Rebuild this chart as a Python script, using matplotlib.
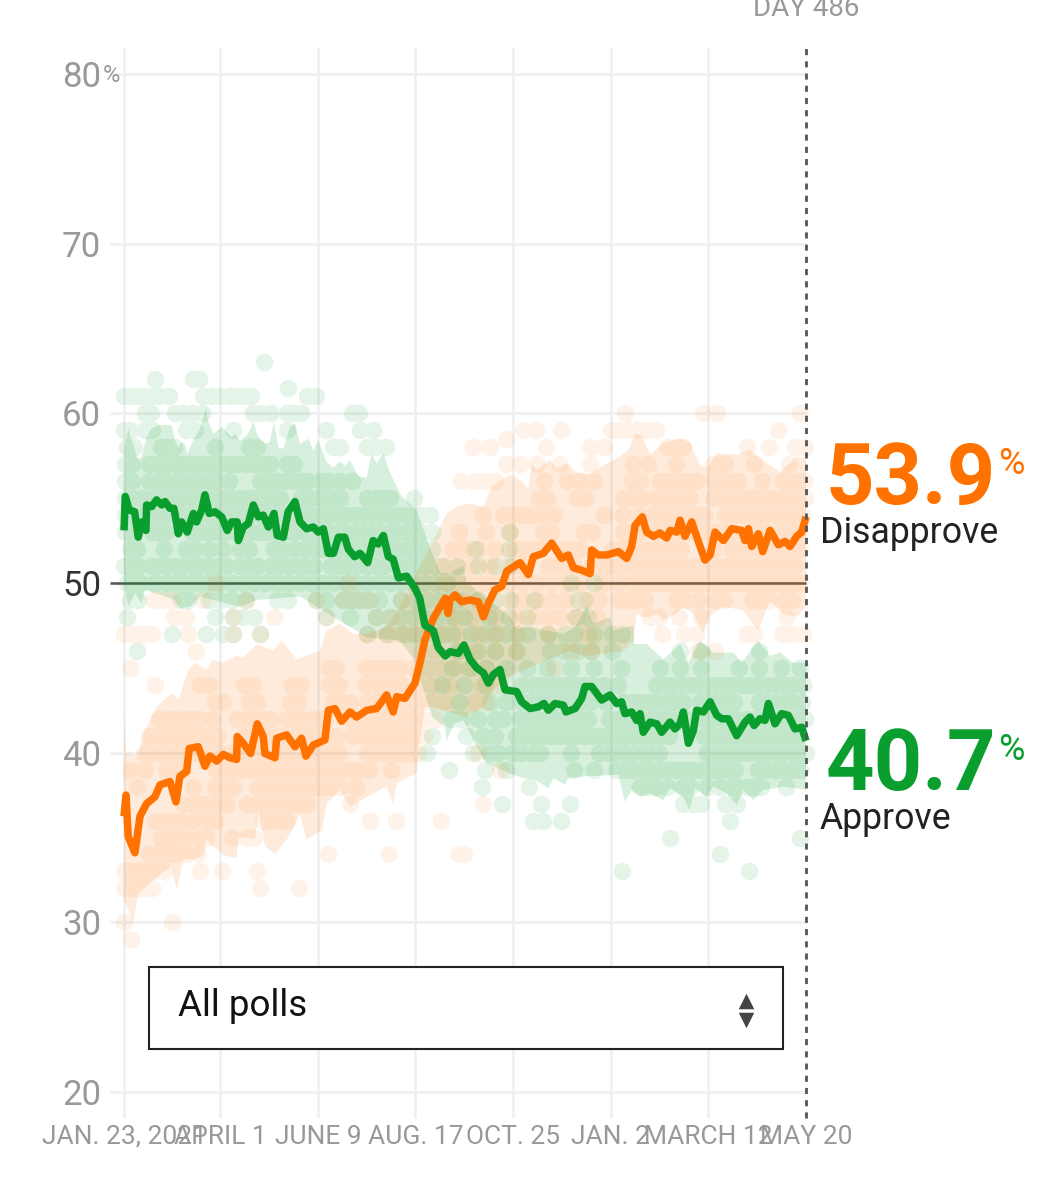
import matplotlib
matplotlib.use('Agg')
import matplotlib.pyplot as plt
from matplotlib.patches import Rectangle

GREEN = '#0a9e2e'
ORANGE = '#ff7200'
BODY = ['Roboto', 'DejaVu Sans']

# x values are days since Jan. 23, 2021
tick_days = [0, 68, 137, 206, 275, 344, 413, 482]
tick_labels = ['JAN. 23, 2021', 'APRIL 1', 'JUNE 9', 'AUG. 17', 'OCT. 25', 'JAN. 2', 'MARCH 12', 'MAY 20']
y_ticks = [20, 30, 40, 50, 60, 70, 80]

approve_days = [0, 0.9, 3.7, 7.5, 10.1, 12.5, 15.5, 16, 19.5, 23, 26.6, 29, 32.5, 35.3, 38.4, 40.7, 44.7, 49, 51.3,
                54.9, 57.2, 60.3, 64.3, 69, 73, 76, 80, 80.8, 84.3, 87.8, 91.4, 94.9, 98.4, 102, 106, 108.3, 112.6,
                116, 120.8, 124.4, 129, 133.8, 137.3, 140.9, 144.4, 148, 151.5, 156, 158.5, 163, 166.8, 172.2, 176,
                179.7, 183.3, 186.8, 190.3, 193.9, 199.8, 205.6, 209, 212.7, 218.6, 222, 227, 230.4, 236.3, 240.3,
                244.5, 249.2, 254, 257.5, 261, 265.7, 269.3, 277.5, 281, 287, 292.8, 296.8, 299.9, 304.6, 310.5,
                312.4, 318.8, 323.5, 325.8, 330.5, 337.6, 343.5, 348.2, 351.7, 354, 358.8, 362.3, 364.7, 367, 371.8,
                376.5, 380, 385.9, 389.4, 393, 395.3, 398.9, 402.4, 404.7, 409.5, 414.2, 418.9, 422.4, 427.1, 433,
                438.9, 442.4, 445.3, 449.5, 453, 455.4, 460.1, 464.8, 469.5, 474.2, 479, 482]
approve_avg = [53.1, 55.1, 54.3, 54.2, 52.7, 53.6, 53.1, 54.6, 54.5, 54.9, 54.6, 54.8, 54.4, 54.4, 52.9, 53.6, 53.0,
               54.1, 53.6, 54.3, 55.2, 54.1, 54.2, 53.9, 53.1, 53.6, 53.6, 52.5, 53.3, 53.5, 54.6, 53.9, 54.0, 53.3,
               54.1, 52.8, 52.7, 54.2, 54.8, 53.6, 53.2, 53.3, 53.0, 53.2, 51.75, 51.75, 52.7, 52.7, 52.0, 51.55,
               51.75, 51.2, 52.5, 52.3, 52.8, 51.55, 51.4, 50.3, 50.4, 49.7, 49.1, 47.5, 47.2, 46.2, 45.7, 45.95,
               45.85, 46.35, 45.5, 45.0, 44.7, 44.1, 44.6, 44.9, 43.7, 43.6, 43.0, 42.6, 42.7, 42.9, 42.5, 42.9,
               42.8, 42.4, 42.6, 43.2, 43.9, 43.9, 43.1, 43.4, 42.9, 43.0, 42.3, 42.4, 41.9, 42.3, 41.2, 41.8, 41.7,
               41.2, 41.8, 41.4, 41.7, 42.4, 40.55, 41.3, 42.5, 42.4, 43.0, 42.2, 42.0, 42.0, 41.0, 41.8, 42.1, 41.6,
               42.0, 41.9, 42.9, 41.7, 42.3, 42.2, 41.4, 41.5, 40.7]

disapprove_days = [0, 1.4, 3, 7.7, 11.3, 16, 21.9, 25.4, 32.5, 36.7, 39.5, 44.3, 46.1, 52.5, 57.2, 60.7, 65.5, 70.2,
                   74.9, 79.6, 80, 84.3, 89.5, 94.2, 98.4, 99.6, 106.7, 107.9, 114.9, 120.8, 125.5, 128.6, 133.8, 142,
                   144.4, 149.1, 153.8, 159.7, 164.4, 171.5, 178.5, 185.6, 190.3, 192.7, 198.6, 205.6, 209.2, 212.7,
                   218.6, 222, 227, 229, 230.4, 233.9, 238.6, 244.5, 250.4, 254, 257.5, 262.2, 266.9, 270.5, 279.9,
                   285.8, 289.3, 296.4, 302.3, 309.3, 314, 317.6, 323.5, 329.4, 330.5, 335.2, 341.1, 349.4, 355.3,
                   358.8, 361.2, 366.3, 369.4, 374.1, 378.8, 383.5, 385.9, 390.6, 393, 396.5, 401.2, 405.9, 410.6,
                   414.2, 417.7, 423.6, 429.5, 436.5, 438.9, 441.3, 443.6, 448.3, 451.4, 456.6, 462.5, 467.2, 470.7,
                   475.4, 479, 482]
disapprove_avg = [36.25, 37.5, 35.05, 34.1, 36.25, 37.0, 37.4, 38.1, 38.3, 37.1, 38.6, 38.9, 40.25, 40.35, 39.2, 39.8,
                  39.5, 39.9, 39.7, 39.6, 40.95, 40.55, 39.95, 41.7, 40.95, 39.95, 39.7, 40.85, 41.05, 40.35, 40.85,
                  39.8, 40.45, 40.75, 42.5, 42.6, 41.85, 42.4, 42.1, 42.5, 42.6, 43.4, 42.4, 43.3, 43.2, 44.1, 45.3,
                  46.65, 47.9, 48.4, 49.1, 48.2, 49.0, 49.3, 48.9, 49.0, 48.9, 48.0, 48.8, 49.6, 49.8, 50.7, 51.2,
                  50.5, 51.55, 51.75, 52.35, 51.45, 51.65, 50.9, 50.75, 50.55, 51.95, 51.65, 51.65, 51.85, 51.45,
                  52.15, 53.4, 53.9, 53.0, 52.75, 52.95, 52.65, 53.1, 53.0, 53.7, 52.75, 53.6, 52.45, 51.35, 51.65,
                  53.0, 52.5, 53.2, 53.1, 52.5, 53.2, 52.15, 52.9, 51.85, 53.1, 52.25, 52.45, 52.15, 52.75, 53.0, 53.9]

# upper and lower edges of the shaded bands
approve_top_days = [0, 0.5, 3, 5.4, 10.1, 12.5, 16, 19.5, 24.2, 33.7, 36, 38.4, 40.7, 43, 44.7, 50.1, 53.7, 57.9, 59.6,
                    63.1, 69, 76, 78.4, 82, 87.8, 91.4, 94.9, 99.6, 103, 106, 109, 112.6, 117.3, 120.8, 124.4, 130.3,
                    133.8, 137.3, 143.2, 147.9, 152.6, 156.2, 159.7, 165.6, 171.5, 175, 178.5, 183.3, 188, 192.7, 196.2,
                    206.8, 216.2, 223.3, 230, 239.8, 242, 254, 261, 273, 277.5, 287, 298.7, 310.5, 318.8, 327, 331.7,
                    343.5, 345.8, 360, 360.7, 369.4, 381.2, 393, 398.9, 407, 416.5, 430.7, 436.5, 448.3, 456.6, 463.6,
                    473, 481, 482]
approve_top = [54, 58, 59.1, 58.4, 57.25, 57.45, 58.6, 59.1, 59.3, 59.3, 58.4, 58, 58.3, 58.2, 57.6, 58.6, 59.1, 60.3,
               59.5, 58.8, 59.2, 58.6, 58.8, 58.4, 58.8, 59.5, 58.6, 58.2, 58.3, 59.5, 58, 57.9, 59.2, 59.4, 58.2, 58.5,
               57.8, 58.4, 57.15, 56.8, 57.15, 56.9, 57.25, 56.3, 56.2, 57.65, 57.05, 57.65, 56.5, 55.7, 55.1, 54.3,
               52.1, 50.6, 50.6, 51, 50.1, 49.2, 48.8, 48, 47.3, 47.4, 47.2, 47, 47.4, 48.6, 47.6, 48, 47.2, 47.5, 46.4,
               46.4, 45.5, 46.4, 45.3, 46.6, 45.9, 45.9, 45.3, 46.6, 45.7, 45.9, 45.3, 45.3, 45.2]
approve_bottom_days = [0, 3, 7.7, 12.5, 14.8, 36, 39.5, 46.6, 53.7, 82, 93.7, 124.4, 148, 164, 171.5, 195, 205, 214, 218,
                       227, 228, 233, 240, 247, 256, 275, 282.2, 290.5, 299.9, 303.4, 311.7, 314, 324.6, 349.4, 354.1,
                       358.8, 365.9, 371.8, 381.2, 385.9, 395.3, 399.6, 403.6, 411.8, 416.5, 426, 433, 437.7, 444.8,
                       451.9, 466, 475.4, 482]
approve_bottom = [50, 48.6, 49.4, 48.8, 49.6, 49, 48.5, 48.6, 49.2, 48.6, 49, 49.2, 48, 47.2, 46.8, 46.6, 45.5, 43.1, 42.1,
                  41.5, 40.7, 41.7, 41.9, 40.7, 39.4, 38.7, 38.5, 38.4, 37.9, 38.5, 38.1, 38.5, 38.6, 38.7, 37.1, 37.8,
                  37.4, 37.6, 37.2, 37.9, 37.4, 36.6, 37.9, 37.4, 38, 37.6, 36.9, 37.8, 37.2, 37.8, 38, 37.9, 37.8]
disapprove_top_days = [0, 1.4, 10, 13.6, 23, 33.6, 38.4, 45.4, 50, 58.4, 63, 69, 79.6, 84.3, 93.7, 105.5, 111.4, 122,
                       138.5, 143, 152.6, 162, 171.5, 185.6, 195, 206.8, 218.6, 228, 235, 244.5, 254, 259.9, 272.8, 281,
                       285.8, 288.1, 291.7, 301.1, 305.8, 312.9, 318.8, 329.4, 334.1, 343.5, 350.6, 356.4, 361.2, 365.9,
                       371.8, 381.2, 393, 400, 407.1, 411.8, 418.9, 433, 442.4, 453, 463.6, 475.4, 482]
disapprove_top = [42.3, 40, 39.8, 41.1, 42.7, 43.5, 43.1, 44.9, 45.3, 44.9, 45.5, 45.3, 45.7, 45.6, 46.4, 46, 46.6, 45.5,
                  46, 47.2, 47.6, 47, 47, 47.4, 48.6, 50.6, 52.5, 54.1, 54.5, 54.7, 54.5, 55.7, 56.4, 56, 55.5, 57.05,
                  56.65, 57.25, 56.75, 57.05, 56.55, 56.4, 56.7, 57.15, 57.45, 57.85, 58.8, 58.7, 57.55, 58.25, 58.5,
                  58.3, 56.95, 56.75, 57.65, 57.55, 57.85, 57.15, 56.55, 57.45, 57.35]
disapprove_bottom_days = [0, 6.6, 10, 20.7, 33.6, 37.2, 42, 49, 56, 58.4, 63, 70.2, 72.5, 79.6, 80.8, 84.3, 92.6, 95, 99.6,
                          106.7, 116, 124.4, 129, 139.7, 143.2, 152.6, 159.7, 171.5, 185.6, 190.3, 192.7, 206.8, 209,
                          212.7, 218, 242, 254, 261, 277.5, 301, 315, 325, 353, 360, 362.3, 365.9, 371.8, 376.5, 381.2,
                          390.6, 395.3, 402.4, 409.5, 413, 423.6, 437.7, 442.4, 448.3, 453, 456.6, 466, 475.4, 482]
disapprove_bottom = [31.3, 30, 31.7, 32.5, 33.3, 31.9, 33.7, 33.7, 33.9, 34.9, 34.5, 34, 33.9, 33.8, 35, 35, 34.9, 36.6,
                     34.5, 34, 35, 36.4, 34.9, 35.4, 37, 37.8, 36.8, 37.4, 38, 37, 38.2, 38.8, 40.7, 42.7, 42.7, 42.1,
                     42.7, 43.7, 44.7, 45.5, 46, 45.7, 46, 46.6, 48.2, 48, 48, 48.2, 47.8, 48.2, 48.6, 48.2, 47, 48, 48.6,
                     48.4, 47.8, 47.2, 48.2, 48.9, 48.2, 48, 48.6]

# individual polls, one row of days per percentage level
approve_levels = [63, 62, 61.5, 61, 60, 59, 58, 57, 56, 55, 54, 53, 52, 51, 50, 49, 48, 47, 46, 45, 44, 43, 42, 41, 40,
                  39, 38, 37, 36, 35, 34, 33]
approve_poll_days = [
    [99], [22, 49, 53], [116],
    [0, 5, 10, 15, 20, 25, 32, 56, 62, 68, 74, 80, 85, 90, 129, 136],
    [15, 19, 36, 42, 48, 55, 91, 97, 104, 115, 120, 125, 161, 166],
    [0, 4, 15, 20, 44, 50, 77, 115, 143, 167, 176],
    [2, 7, 26, 30, 35, 64, 88, 94, 148, 153, 172, 178, 185],
    [1, 6, 18, 24, 30, 36, 40, 44, 50, 56, 62, 68, 74, 80, 86, 92, 98, 103, 115, 120],
    [1, 6, 18, 24, 30, 36, 42, 48, 54, 60, 65, 74, 96, 102, 108, 114, 120, 126, 129, 139, 145, 153, 161],
    [1, 6, 12, 14, 22, 28, 34, 40, 46, 51, 58, 64, 70, 76, 82, 88, 94, 100, 106, 110, 125, 131, 137, 143, 148, 153, 172,
     178, 184, 188, 205],
    [1, 6, 12, 18, 24, 30, 36, 42, 48, 54, 60, 66, 72, 78, 84, 90, 96, 102, 108, 114, 120, 126, 132, 139, 145, 151, 157,
     163, 169, 175, 181, 187, 193, 199, 205, 210, 216],
    [1, 6, 20, 24, 30, 48, 54, 60, 66, 72, 78, 84, 90, 96, 102, 108, 114, 120, 127, 133, 139, 145, 151, 157, 163, 169,
     175, 181, 187, 193, 199, 205, 210, 218, 272],
    [4, 9, 28, 44, 50, 60, 70, 82, 88, 106, 112, 120, 128, 134, 140, 146, 152, 158, 164, 170, 176, 182, 188, 194, 200,
     206, 212, 218, 248, 272],
    [0, 5, 10, 20, 24, 30, 36, 42, 48, 54, 60, 66, 72, 82, 88, 94, 104, 110, 116, 122, 128, 134, 146, 152, 158, 164,
     172, 178, 184, 196, 202, 208, 214, 220, 225, 235, 250, 262, 272],
    [2, 7, 12, 22, 30, 36, 42, 48, 54, 60, 68, 76, 84, 92, 100, 108, 116, 124, 132, 140, 148, 156, 164, 172, 180, 188,
     196, 204, 212, 220, 228, 316, 332],
    [4, 10, 40, 45, 60, 68, 76, 86, 108, 116, 136, 143, 155, 160, 166, 172, 180, 196, 206, 214, 222, 230, 235, 250, 262,
     273, 290, 321, 325],
    [2, 64, 77, 84, 92, 143, 160, 178, 188, 196, 204, 212, 222, 232, 240, 258, 272, 285, 319, 328],
    [34, 58, 70, 77, 96, 172, 186, 196, 204, 212, 224, 232, 245, 255, 262, 270, 278, 285, 300, 312, 318, 332, 345, 352],
    [9, 235, 250, 262, 278, 301, 311, 320, 330, 345, 393, 408, 449],
    [232, 244, 256, 270, 285, 299, 316, 332, 351, 379, 393, 408, 435, 449, 464, 478],
    [225, 240, 255, 281, 289, 295, 301, 307, 313, 319, 325, 331, 339, 349, 376, 382, 388, 394, 400, 406, 412, 418, 424,
     430, 436, 442, 448, 454, 461, 467, 473, 480],
    [237, 259, 270, 281, 287, 293, 299, 305, 311, 317, 323, 329, 341, 353, 359, 365, 371, 377, 383, 389, 395, 407, 413,
     419, 425, 431, 449, 455, 461, 467, 473, 479],
    [232, 238, 250, 262, 268, 280, 286, 292, 298, 304, 310, 316, 322, 328, 343, 349, 355, 361, 367, 373, 379, 385, 391,
     397, 403, 410, 416, 422, 428, 434, 440, 446, 452, 458, 464, 470, 476, 481],
    [218, 242, 254, 262, 277, 283, 289, 295, 301, 307, 313, 319, 325, 331, 337, 343, 349, 355, 361, 367, 373, 379, 385,
     410, 416, 422, 428, 434, 440, 446, 452, 458, 464, 470, 476],
    [214, 247, 258, 264, 275, 281, 288, 294, 316, 336, 342, 348, 354, 360, 366, 372, 378, 412, 418, 424, 430, 436, 442,
     448, 454, 460, 466, 472, 478, 482],
    [230, 255, 270, 318, 332, 348, 354, 360, 366, 372, 378, 384, 390, 396, 402, 408, 414, 420, 426, 432, 448, 454, 460,
     466, 472, 478],
    [253, 286, 365, 370, 376, 384, 395, 400, 412, 421, 430, 435, 440, 445, 450, 468],
    [267, 295, 315, 395, 402, 408, 425, 433],
    [289, 296, 309, 428],
    [386, 478],
    [421],
    [352, 442],
]

disapprove_levels = [60, 59, 58.5, 58, 57, 56, 55, 54, 53, 52, 51, 50, 49, 48, 47, 46, 45, 44, 43, 42, 41, 40, 39, 38,
                     37, 36, 35, 34, 33, 32, 30, 29]
disapprove_poll_days = [
    [354, 409, 419, 478],
    [282, 291, 309, 344, 350, 356, 362, 368, 376, 462],
    [270],
    [247, 259, 298, 329, 339, 384, 390, 395, 440, 456, 474, 481],
    [270, 280, 292, 308, 329, 360, 370, 390, 416, 425, 445, 470],
    [238, 248, 255, 262, 297, 313, 322, 332, 359, 365, 379, 385, 391, 397, 404, 416, 422, 428, 434, 451, 466, 472, 478,
     481],
    [293, 299, 320, 326, 353, 360, 366, 376, 382, 388, 394, 400, 416, 422, 428, 434, 440, 446, 452, 458, 464, 470, 476,
     481],
    [254, 268, 274, 280, 286, 292, 298, 304, 339, 353, 365, 374, 380, 386, 392, 398, 404, 410, 425, 431, 437, 443, 449,
     455, 461, 467, 473, 479],
    [237, 256, 273, 296, 302, 325, 331, 353, 359, 365, 376, 382, 388, 394, 400, 406, 412, 418, 424, 430, 442, 448, 454,
     460, 466, 472, 478],
    [232, 240, 250, 262, 276, 282, 288, 294, 310, 316, 322, 345, 351, 357, 363, 369, 376, 382, 388, 394, 416, 430, 436,
     442, 448, 454, 460, 466, 472, 478],
    [226, 236, 246, 258, 275, 281, 300, 306, 312, 318, 330, 336, 342, 348, 354, 360, 366, 372, 378, 384, 390, 396, 402,
     408, 414, 420, 426, 432, 438, 444, 450, 456, 462, 468, 474],
    [64, 158, 226, 234, 244, 254, 262, 272, 282, 292, 302, 312, 322, 338, 350, 358, 364, 370, 376, 382, 388, 394, 400,
     406, 412, 418, 424, 430, 436, 442, 448, 454, 460, 466, 472, 478],
    [21, 27, 33, 56, 86, 136, 155, 161, 167, 174, 196, 240, 250, 276, 282, 292, 302, 312, 328, 336, 350, 356, 362, 368,
     390, 396, 406, 418, 424, 444, 450, 456, 466, 472],
    [35, 44, 77, 106, 143, 178, 188, 234, 246, 262, 278, 290, 300, 308, 320, 334, 372, 378, 392, 408, 468],
    [0, 5, 10, 15, 20, 45, 77, 96, 172, 186, 198, 208, 226, 236, 250, 262, 278, 300, 328, 380, 396, 404, 440, 445, 465,
     472, 480],
    [51, 210, 220, 236, 248, 262, 276, 316, 330, 406, 418],
    [4, 145, 150, 171, 177, 183, 189, 195, 205, 214, 224, 234, 246, 256, 304],
    [22, 54, 60, 85, 91, 119, 125, 145, 152, 171, 178, 184, 190, 196, 208, 218, 230, 252, 260, 264],
    [64, 70, 88, 94, 117, 123, 148, 154, 160, 172, 178, 184, 198, 204, 210, 218, 226, 248, 256],
    [25, 31, 37, 43, 49, 54, 62, 80, 86, 92, 98, 103, 115, 121, 127, 134, 142, 160, 166, 172, 178, 184, 190, 196, 204,
     212, 220],
    [18, 24, 30, 36, 42, 48, 54, 60, 66, 84, 90, 96, 102, 108, 114, 120, 126, 132, 140, 146, 150, 162, 168, 174, 180, 186,
     192, 198, 204, 212],
    [14, 20, 26, 32, 38, 44, 50, 56, 62, 68, 74, 80, 86, 92, 98, 104, 110, 116, 122, 128, 134, 140, 146, 152, 172, 178,
     184, 190, 196, 202, 208, 250],
    [4, 15, 30, 36, 42, 65, 71, 77, 83, 89, 95, 101, 107, 113, 119, 125, 131, 137, 143, 149, 155, 161, 167, 173, 189, 266],
    [9, 49, 64, 70, 77, 94, 100, 106, 112, 118, 124, 130, 136, 142, 148, 153, 164],
    [42, 48, 54, 61, 66, 72, 87, 93, 99, 105, 111, 117, 123, 129, 160, 254],
    [22, 28, 34, 40, 49, 58, 64, 98, 104, 110, 115, 174, 192, 224],
    [26, 32, 38, 44, 52, 58, 76, 87, 92],
    [18, 24, 30, 36, 44, 52, 144, 187, 236, 240],
    [0, 5, 10, 16, 22, 28, 54, 69, 94],
    [0, 5, 10, 14, 20, 96, 124],
    [0, 34],
    [5],
]


# whole layer fades as one, so that dots in a row merge without darker overlaps
# draw_image seems to apply the alpha twice, hence the root
def fade(alpha):
    def apply(img, dpi):
        out = img.copy()
        out[..., 3] *= alpha ** 0.5
        return out, 0, 0
    return apply


def draw_polls(ax, levels, days_by_level, color, alpha):
    xs, ys = [], []
    for level, days in zip(levels, days_by_level):
        xs += days
        ys += [level] * len(days)
    dots = ax.scatter(xs, ys, s=160, color=color, linewidths=0, clip_on=False, zorder=3)
    dots.set_agg_filter(fade(alpha))


fig = plt.figure(figsize=(10.54, 11.79), dpi=100, facecolor='white')
ax = fig.add_axes([124 / 1054, 87 / 1179, 682 / 1054, 1018 / 1179])
ax.set_xlim(0, 482)
ax.set_ylim(20, 80)
for side in ax.spines:
    ax.spines[side].set_visible(False)

ax.vlines(tick_days[:-1], 18.45, 81.6, color='#f0f0f0', lw=1.9, zorder=1, clip_on=False)
ax.hlines(y_ticks, -10, 482, color='#f0f0f0', lw=2.2, zorder=1, clip_on=False)
ax.hlines(50, -10, 482, color='#555555', lw=1.8, zorder=1.5, clip_on=False)

ax.fill(approve_top_days + approve_bottom_days[::-1], approve_top + approve_bottom[::-1],
        color=GREEN, alpha=0.16, lw=0, zorder=2)
ax.fill(disapprove_top_days + disapprove_bottom_days[::-1], disapprove_top + disapprove_bottom[::-1],
        color=ORANGE, alpha=0.14, lw=0, zorder=2)
draw_polls(ax, approve_levels, approve_poll_days, GREEN, 0.11)
draw_polls(ax, disapprove_levels, disapprove_poll_days, ORANGE, 0.09)

ax.plot(disapprove_days, disapprove_avg, color=ORANGE, lw=5.4, solid_joinstyle='round', solid_capstyle='butt',
        clip_on=False, zorder=5)
ax.plot(approve_days, approve_avg, color=GREEN, lw=5.4, solid_joinstyle='round', solid_capstyle='butt',
        clip_on=False, zorder=5)
ax.vlines(482, 18.45, 81.6, color='#555555', lw=2, linestyles=(0, (2.2, 2.2)), zorder=6, clip_on=False)

ax.set_xticks(tick_days)
ax.set_xticklabels(tick_labels, fontsize=19, color='#999999', family=BODY)
ax.set_yticks(y_ticks)
ax.set_yticklabels([str(v) for v in y_ticks], fontsize=25, color='#999999', family=BODY)
ax.tick_params(axis='x', length=0, pad=23.5)
ax.tick_params(axis='y', length=0, pad=16.5)
ax.get_yticklabels()[3].set_color('#333333')

# overlay in pixel coordinates for the text and the select box
over = fig.add_axes([0, 0, 1, 1], zorder=10)
over.set_xlim(0, 1054)
over.set_ylim(1179, 0)
over.axis('off')

over.text(103, 75, '%', fontsize=17, color='#999999', family=BODY, va='center', ha='left')
over.text(806, 8, 'DAY 486', fontsize=20, color='#999999', family=BODY, va='center', ha='center')

over.text(826, 504, '53.9', fontsize=61, fontweight='bold', color=ORANGE, family=BODY, va='baseline', ha='left')
over.text(998, 474, '%', fontsize=26, color=ORANGE, family=BODY, va='baseline', ha='left')
over.text(820, 543, 'Disapprove', fontsize=25.7, color='#222222', family=BODY, va='baseline', ha='left')
over.text(826, 790, '40.7', fontsize=61, fontweight='bold', color=GREEN, family=BODY, va='baseline', ha='left')
over.text(998, 760, '%', fontsize=26, color=GREEN, family=BODY, va='baseline', ha='left')
over.text(820, 829, 'Approve', fontsize=25.7, color='#222222', family=BODY, va='baseline', ha='left')

over.add_patch(Rectangle((149, 967), 634, 82, facecolor='white', edgecolor='#222222', lw=1.5))
over.text(178, 1016, 'All polls', fontsize=26.5, color='#111111', family=BODY, va='baseline', ha='left')
over.scatter([746], [1001], marker='^', s=125, color='#444444', linewidths=0)
over.scatter([746], [1020], marker='v', s=125, color='#444444', linewidths=0)

fig.savefig('out.png', dpi=100)
